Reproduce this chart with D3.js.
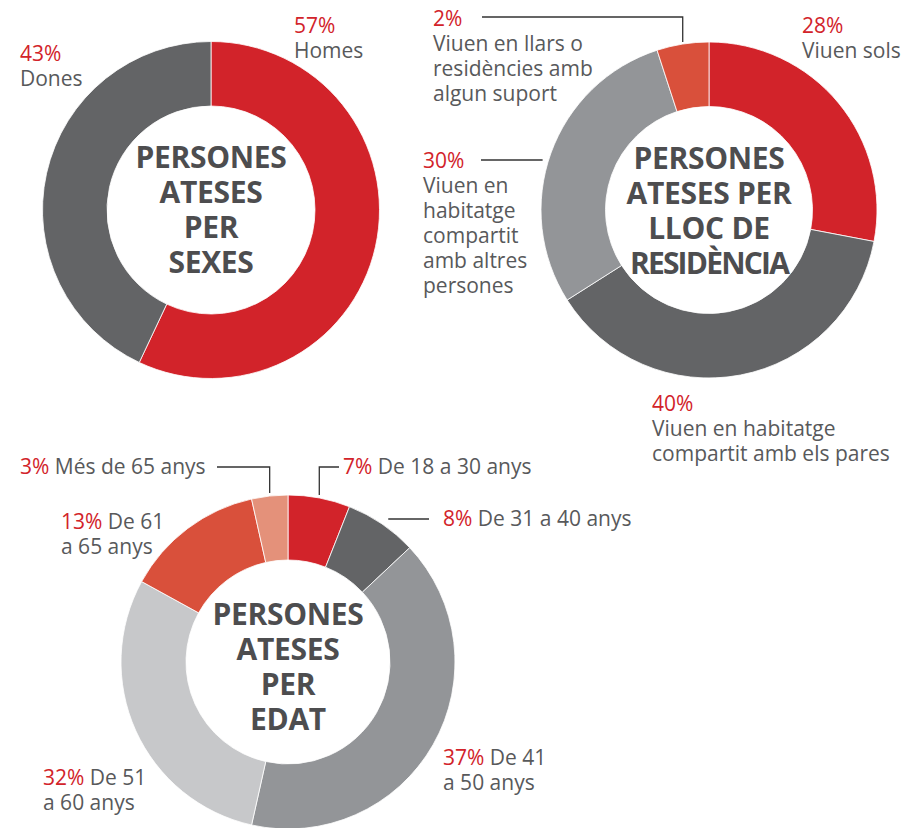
<!DOCTYPE html>
<html>
<head>
<meta charset="utf-8">
<script src="https://cdn.jsdelivr.net/npm/d3@7"></script>
<style>
  body { margin: 0; background: #fff; }
  svg text { font-family: "Open Sans", sans-serif; }
</style>
</head>
<body>
<div id="chart"></div>
<script>
// --- data ---
// sexes
var sexLabels = ["Homes", "Dones"];
var sexValues = [57, 43];
var sexPct = ["57%", "43%"];

// lloc de residencia (arc sizes as drawn, labels as printed)
var resLabels = ["Viuen sols", "Viuen en habitatge\ncompartit amb els pares",
  "Viuen en\nhabitatge\ncompartit\namb altres\npersones", "Viuen en llars o\nresidències amb\nalgun suport"];
var resValues = [28, 38, 29, 5];
var resPct = ["28%", "40%", "30%", "2%"];

// edat
var ageLabels = ["De 18 a 30 anys", "De 31 a 40 anys", "De 41\na 50 anys",
  "De 51\na 60 anys", "De 61\na 65 anys", "Més de 65 anys"];
var ageValues = [6, 7, 40.5, 29.5, 13.5, 3.5];
var agePct = ["7%", "8%", "37%", "32%", "13%", "3%"];

var RED = "#d2232a", DARK = "#636466", MID = "#939598", LIGHT = "#c7c8ca",
    ORANGE = "#d9503b", SALMON = "#e4917a";
var TEXT = "#58595b", TITLE = "#4d4d4f";

var width = 904, height = 828;
var svg = d3.select("#chart").append("svg")
    .attr("width", width)
    .attr("height", height);

var lineH = 25;

function donut(opts) {
    var g = svg.append("g")
        .attr("transform", "translate(" + opts.cx + "," + opts.cy + ")");

    var pie = d3.pie().sort(null).value(function(d) { return d; });
    var arc = d3.arc().innerRadius(opts.r0).outerRadius(opts.r1);
    var arcs = pie(opts.values);

    g.selectAll("path").data(arcs).enter()
        .append("path")
        .attr("d", arc)
        .attr("fill", function(d, i) { return opts.colors[i]; })
        .attr("stroke", "#fff")
        .attr("stroke-width", 0.8);

    // title in the hole (long words get squeezed a bit, like the original)
    g.append("text")
        .attr("text-anchor", "middle")
        .attr("font-weight", 700)
        .attr("font-size", 30)
        .attr("fill", TITLE)
        .selectAll("tspan").data(opts.title).enter()
        .append("tspan")
        .attr("x", 0)
        .attr("y", function(d, i) { return opts.titleY + i * 35; })
        .attr("letter-spacing", function(d) { return d.length > 9 && d.indexOf(" ") < 0 ? -1.8 : -0.3; })
        .text(function(d) { return d; });

    // labels
    arcs.forEach(function(a, i) {
        var L = opts.layout[i];
        var lines = opts.labels[i].split("\n");
        var t = svg.append("text")
            .attr("font-size", 21)
            .attr("fill", TEXT);
        if (L.inline) {
            var first = t.append("tspan").attr("x", L.x).attr("y", L.y);
            first.append("tspan").attr("fill", RED).text(opts.pct[i]);
            first.append("tspan").text(" " + lines[0]);
            lines.slice(1).forEach(function(s, k) {
                t.append("tspan").attr("x", L.x).attr("y", L.y + (k + 1) * lineH).text(s);
            });
        } else {
            t.append("tspan").attr("x", L.x).attr("y", L.y).attr("fill", RED).text(opts.pct[i]);
            lines.forEach(function(s, k) {
                t.append("tspan").attr("x", L.x).attr("y", L.y + (k + 1) * lineH).text(s);
            });
        }

        // leader lines
        if (L.lead) {
            var mid = (a.startAngle + a.endAngle) / 2;
            var pts;
            if (L.lead.type == "elbow") {
                var px = opts.cx + Math.sin(mid) * opts.r1,
                    py = opts.cy - Math.cos(mid) * opts.r1;
                pts = [[L.lead.x, L.lead.y], [px, L.lead.y], [px, py - L.lead.gap]];
            } else {
                // horizontal line at y, stopping short of the ring
                var dy = L.lead.y - opts.cy;
                var ex = Math.sqrt(opts.r1 * opts.r1 - dy * dy);
                var side = Math.sin(mid) < 0 ? -1 : 1;
                var edge = opts.cx + side * ex;
                pts = [[L.lead.x, L.lead.y], [edge + side * L.lead.gap, L.lead.y]];
            }
            svg.append("path")
                .attr("d", d3.line()(pts))
                .attr("fill", "none")
                .attr("stroke", "#333")
                .attr("stroke-width", 1.3);
        }
    });
}

donut({
    cx: 211, cy: 210, r0: 104, r1: 168.5,
    values: sexValues, labels: sexLabels, pct: sexPct,
    colors: [RED, DARK],
    title: ["PERSONES", "ATESES", "PER", "SEXES"], titleY: -42,
    layout: [{x: 294, y: 33}, {x: 20, y: 61}]
});

donut({
    cx: 709, cy: 210, r0: 103.5, r1: 168,
    values: resValues, labels: resLabels, pct: resPct,
    colors: [RED, DARK, MID, ORANGE],
    title: ["PERSONES", "ATESES PER", "LLOC DE", "RESIDÈNCIA"], titleY: -41,
    layout: [
        {x: 802, y: 33},
        {x: 652, y: 411},
        {x: 423, y: 168, lead: {type: "h", x: 481, y: 160, gap: 6}},
        {x: 433, y: 26, lead: {type: "elbow", x: 482, y: 17, gap: 2}}
    ]
});

donut({
    cx: 288, cy: 662, r0: 102, r1: 167,
    values: ageValues, labels: ageLabels, pct: agePct,
    colors: [RED, DARK, MID, LIGHT, ORANGE, SALMON],
    title: ["PERSONES", "ATESES", "PER", "EDAT"], titleY: -37,
    layout: [
        {x: 343, y: 474, inline: true, lead: {type: "elbow", x: 339, y: 467, gap: 3}},
        {x: 443, y: 526, inline: true, lead: {type: "h", x: 429, y: 519, gap: 14}},
        {x: 443, y: 765, inline: true},
        {x: 43, y: 785, inline: true},
        {x: 61, y: 529, inline: true},
        {x: 20, y: 474, inline: true, lead: {type: "elbow", x: 217, y: 467, gap: 3}}
    ]
});
</script>
</body>
</html>
